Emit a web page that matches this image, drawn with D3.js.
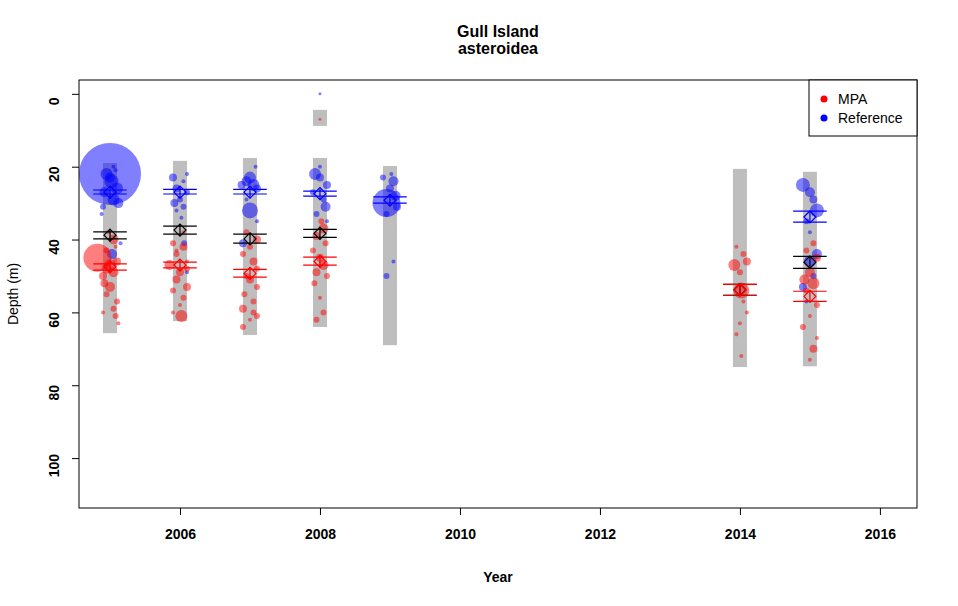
<!DOCTYPE html>
<html><head><meta charset="utf-8">
<script src="https://cdn.jsdelivr.net/npm/d3@7"></script>
<style>body{margin:0;background:#fff}text{font-family:"Liberation Sans",Arial,sans-serif}</style>
</head><body>
<script>
// depth range of each survey year (gray bars)
const years = [2005, 2006, 2007, 2008, 2009, 2014, 2015];
const rangeMin = [19, 18.4, 17.6, 17.6, 19.8, 20.6, 21.4];
const rangeMax = [65.7, 62.4, 66.2, 64, 69, 75, 74.8];
const extraBars = [[2008, 4.4, 8.8]];

// means and CI lines: [year, mean, lo, hi]
const refStats = [[2005,27,26.4,27.5],[2006,27,26.2,27.5],[2007,27,26.2,27.5],[2008,27.4,26.7,28.1],[2009,29.2,28.3,30],[2015,33.8,32.2,35.2]];
const mpaStats = [[2005,47.5,46.7,48.4],[2006,47,46.2,47.8],[2007,49.3,48.2,50.3],[2008,46,44.8,47],[2014,53.8,52.3,55.3],[2015,55.6,54.2,57]];
const allStats = [[2005,38.8,37.9,39.8],[2006,37.4,36.3,38.5],[2007,39.8,38.5,41],[2008,38.3,37.2,39.4],[2014,53.8,52.3,55.3],[2015,46.2,44.6,47.9]];

// observations: [year, jitter (yr), depth, size]
const refPts = [
 [2005,0,22,31],[2005,-0.05,22,6],[2005,0.02,24,7],[2005,0.1,26,6],[2005,-0.08,27,5],[2005,0.05,29,6],[2005,0.12,30,5],[2005,-0.1,31,3],[2005,0,23,5],[2005,0.08,21,2],[2005,-0.12,33,2],[2005,0.15,41,2],[2005,0.03,44,5],[2005,0.05,20,2],
 [2006,-0.1,23,4],[2006,0.05,24,2],[2006,-0.05,26,4],[2006,0.1,27,3],[2006,0,29,3],[2006,-0.08,30,4],[2006,0.05,31,3],[2006,0.1,22,2],[2006,0.02,34,2],[2006,0.06,41,3],[2006,0.1,49,2],[2006,-0.05,32,2],
 [2007,-0.05,24,5],[2007,0.05,25,6],[2007,0,23,6],[2007,0.1,26,4],[2007,-0.12,25,4],[2007,0,32,8],[2007,0.08,20,2],[2007,-0.05,29,2],[2007,0.1,35,2],[2007,-0.1,41,4],
 [2008,-0.07,22,6],[2008,0,23,4],[2008,0.1,25,4],[2008,-0.1,27,3],[2008,0.05,29,3],[2008,0.08,31,5],[2008,-0.05,33,3],[2008,0.1,35,2],[2008,0,0,1.5],[2008,0,20,2],
 [2009,-0.05,30,14],[2009,0.05,24,5],[2009,0,26,4],[2009,0.08,28,5],[2009,-0.1,23,3],[2009,0.1,31,4],[2009,-0.05,33,3],[2009,0.02,22,2],[2009,-0.05,50,3],[2009,0.05,46,2],
 [2015,-0.1,25,7],[2015,0,27,5],[2015,0.05,29,4],[2015,0.1,32,7],[2015,-0.05,35,3],[2015,0,38,2],[2015,0.1,44,5],[2015,0,46,6],[2015,-0.1,53,4],[2015,0.05,50,3],[2015,-0.05,57,2]
];
const mpaPts = [
 [2005,-0.18,45,14],[2005,0.05,40,5],[2005,-0.05,43,3],[2005,0.1,46,4],[2005,0,47,6],[2005,-0.05,48,5],[2005,0.05,49,5],[2005,-0.1,50,4],[2005,-0.08,52,4],[2005,0,53,5],[2005,-0.05,55,3],[2005,0.1,57,3],[2005,0.05,59,3],[2005,0.08,61,3],[2005,0.12,63,2],[2005,-0.1,60,2],[2005,-0.02,38,2],[2005,0.08,42,2],
 [2006,0.05,38,2],[2006,-0.1,41,3],[2006,0.05,42,4],[2006,-0.05,44,3],[2006,0.1,46,2],[2006,-0.15,47,5],[2006,0,49,4],[2006,-0.05,51,4],[2006,0.1,53,4],[2006,-0.1,54,3],[2006,0.05,56,3],[2006,0,58,2],[2006,-0.1,60,2],[2006,0.02,61,6],[2006,0.1,48,3],[2006,-0.05,43,2],
 [2007,-0.05,38,3],[2007,0.1,40,4],[2007,0,42,3],[2007,-0.1,44,3],[2007,0.05,46,4],[2007,0.1,48,3],[2007,-0.05,50,3],[2007,0,51,4],[2007,0.1,53,3],[2007,-0.08,55,3],[2007,0.05,57,3],[2007,-0.1,59,4],[2007,0.05,60,3],[2007,0.1,61,3],[2007,-0.1,64,3],[2007,0,62,2],
 [2008,0,7,1.5],[2008,0.05,37,5],[2008,-0.05,39,4],[2008,0.08,41,3],[2008,-0.1,43,3],[2008,0,45,4],[2008,0.05,47,5],[2008,-0.05,49,4],[2008,0.1,50,3],[2008,-0.08,52,3],[2008,0,56,2],[2008,0.05,60,3],[2008,-0.05,62,3],[2008,0.02,35,3],
 [2014,-0.08,47,6],[2014,0.02,54,8],[2014,0.1,46,4],[2014,0.05,44,3],[2014,-0.05,42,2],[2014,0,49,3],[2014,0.05,57,2],[2014,0,63,2],[2014,-0.05,66,2],[2014,0.02,72,2],[2014,0.1,60,2],
 [2015,-0.05,43,3],[2015,0.05,41,3],[2015,0.1,45,4],[2015,0,49,5],[2015,-0.08,51,5],[2015,0.05,52,6],[2015,-0.05,54,3],[2015,0.1,58,3],[2015,0,61,2],[2015,-0.1,64,3],[2015,0.1,67,2],[2015,0.05,70,4],[2015,0,73,2]
];

const xTicks = [2006, 2008, 2010, 2012, 2014, 2016];
const yTicks = [0, 20, 40, 60, 80, 100];

const W = 958, H = 606;
const m = {left: 79, right: 41, top: 80, bottom: 98};
const x = d3.scaleLinear().domain([2004.557, 2016.53]).range([m.left, W - m.right]);
const y = d3.scaleLinear().domain([-3.8, 113.7]).range([m.top, H - m.bottom]);

const svg = d3.select('body').append('svg').attr('width', W).attr('height', H);
const plot = svg.append('g');
const bw = 0.1;

plot.selectAll('rect.bar').data(years.map((yr, i) => [yr, rangeMin[i], rangeMax[i]]).concat(extraBars))
  .join('rect').attr('fill', '#bebebe')
  .attr('x', d => x(d[0] - bw)).attr('width', x(2005 + bw) - x(2005 - bw))
  .attr('y', d => y(d[1])).attr('height', d => y(d[2]) - y(d[1]));

function points (data, col) {
  plot.append('g').selectAll('circle').data(data).join('circle')
    .attr('cx', d => x(d[0] + d[1])).attr('cy', d => y(d[2])).attr('r', d => d[3])
    .attr('fill', col).attr('fill-opacity', 0.5);
}
points(refPts, 'rgb(0,0,255)');
points(mpaPts, 'rgb(255,0,0)');

function stats (data, col) {
  const g = plot.append('g').attr('stroke', col).attr('fill', 'none').attr('stroke-width', 1.2);
  const hw = 0.24;
  data.forEach(d => {
    [d[2], d[3]].forEach(v => g.append('line')
      .attr('x1', x(d[0] - hw)).attr('x2', x(d[0] + hw)).attr('y1', y(v)).attr('y2', y(v)));
    const cx = x(d[0]), cy = y(d[1]), s = 6;
    g.append('path').attr('d', `M${cx - s},${cy}L${cx},${cy - s}L${cx + s},${cy}L${cx},${cy + s}Z`);
    g.append('line').attr('x1', cx).attr('x2', cx).attr('y1', cy - s).attr('y2', cy + s);
  });
}
stats(allStats, '#000');
stats(refStats, 'blue');
stats(mpaStats, 'red');

svg.append('rect').attr('x', m.left).attr('y', m.top)
  .attr('width', W - m.left - m.right).attr('height', H - m.top - m.bottom)
  .attr('fill', 'none').attr('stroke', '#000');

const xa = svg.append('g').attr('transform', `translate(0,${H - m.bottom})`)
  .call(d3.axisBottom(x).tickValues(xTicks).tickFormat(d3.format('d')).tickSize(7).tickPadding(14));
const ya = svg.append('g').attr('transform', `translate(${m.left},0)`)
  .call(d3.axisLeft(y).tickValues(yTicks).tickSize(7).tickPadding(0));
[xa, ya].forEach(a => {
  a.select('.domain').remove();
  a.selectAll('text').attr('font-size', 14).attr('font-weight', 'bold').attr('fill', '#000');
});
ya.selectAll('.tick text').attr('text-anchor', 'middle').attr('dy', 0)
  .attr('transform', 'translate(-20,0) rotate(-90)');

svg.append('text').attr('x', 498).attr('y', 37).attr('text-anchor', 'middle')
  .attr('font-size', 16).attr('font-weight', 'bold').text('Gull Island');
svg.append('text').attr('x', 498).attr('y', 54).attr('text-anchor', 'middle')
  .attr('font-size', 16).attr('font-weight', 'bold').text('asteroidea');
svg.append('text').attr('x', 498).attr('y', 582).attr('text-anchor', 'middle')
  .attr('font-size', 14).attr('font-weight', 'bold').text('Year');
svg.append('text').attr('transform', 'translate(18,294) rotate(-90)').attr('text-anchor', 'middle')
  .attr('font-size', 14).text('Depth (m)');

const leg = svg.append('g');
leg.append('rect').attr('x', 809).attr('y', 80).attr('width', 108).attr('height', 56)
  .attr('fill', '#fff').attr('stroke', '#000');
[['MPA', 'red'], ['Reference', 'blue']].forEach((d, i) => {
  leg.append('circle').attr('cx', 824).attr('cy', 99 + i * 19).attr('r', 3.5).attr('fill', d[1]);
  leg.append('text').attr('x', 838).attr('y', 104 + i * 19).attr('font-size', 14).text(d[0]);
});
</script>
</body></html>
